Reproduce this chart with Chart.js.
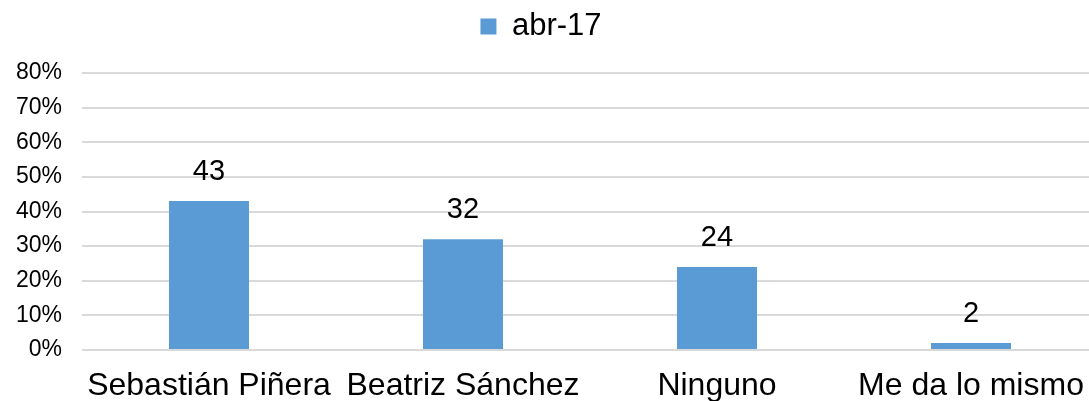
<!DOCTYPE html>
<html>
<head>
<meta charset="utf-8">
<script src="https://cdn.jsdelivr.net/npm/chart.js@4/dist/chart.umd.min.js"></script>
<style>
  html, body { margin: 0; padding: 0; background: #fff; overflow: hidden; }
  #wrap { width: 1098px; height: 401px; }
</style>
</head>
<body>
<div id="wrap"><canvas id="chart" width="1098" height="401"></canvas></div>
<script>
const categories = ["Sebastián Piñera", "Beatriz Sánchez", "Ninguno", "Me da lo mismo"];
const seriesName = "abr-17";
const values = [43, 32, 24, 2];
const yTicks = [0, 10, 20, 30, 40, 50, 60, 70, 80];

const FONT = "'Liberation Sans', Arial, sans-serif";
const BAR_COLOR = "#5b9bd5";

// legend sits in a fixed-height strip above the plot, nudged a bit left
const legendHeightPlugin = {
    id: "legendHeight",
    beforeLayout(chart){
        const lg = chart.legend;
        if (!lg || lg._patched) return;
        const origFit = lg.fit.bind(lg);
        lg.fit = function(){
            origFit();
            this.height = 73;
        };
        const origDraw = lg.draw.bind(lg);
        lg.draw = function(){
            const ctx = this.ctx;
            ctx.save();
            ctx.translate(-8, 0);
            origDraw();
            ctx.restore();
        };
        lg._patched = true;
    }
};

// value labels above bars
const barLabels = {
    id: "barLabels",
    afterDatasetsDraw(chart){
        const ctx = chart.ctx;
        const meta = chart.getDatasetMeta(0);
        ctx.save();
        ctx.font = "29px " + FONT;
        ctx.fillStyle = "#000";
        ctx.textAlign = "center";
        ctx.textBaseline = "alphabetic";
        meta.data.forEach((bar, i) => {
            ctx.fillText(String(values[i]), bar.x, bar.y - 21);
        });
        ctx.restore();
    }
};

new Chart(document.getElementById("chart"), {
    type: "bar",
    data: {
        labels: categories,
        datasets: [{
            label: seriesName,
            data: values,
            backgroundColor: BAR_COLOR,
            borderWidth: 0,
            barPercentage: 0.315,
            categoryPercentage: 1
        }]
    },
    options: {
        responsive: false,
        animation: false,
        layout: { padding: 0 },
        plugins: {
            legend: {
                position: "top",
                labels: {
                    color: "#000",
                    font: { family: FONT, size: 31 },
                    boxWidth: 16,
                    boxHeight: 16,
                    padding: 11
                }
            },
            tooltip: { enabled: false }
        },
        scales: {
            x: {
                grid: { display: false },
                border: { display: false },
                ticks: {
                    color: "#000",
                    font: { family: FONT, size: 32 },
                    padding: 9,
                    maxRotation: 0,
                    autoSkip: false
                },
                afterFit(scale){ scale.height = 51; }
            },
            y: {
                min: 0,
                max: 80,
                grid: { color: "#d9d9d9", lineWidth: 2, drawTicks: false },
                border: { display: false },
                afterBuildTicks(scale){ scale.ticks = yTicks.map(v => ({ value: v })); },
                ticks: {
                    color: "#000",
                    font: { family: FONT, size: 23 },
                    padding: 20,
                    callback: v => v + "%"
                },
                afterFit(scale){ scale.width = 82; }
            }
        }
    },
    plugins: [legendHeightPlugin, barLabels]
});
</script>
</body>
</html>
